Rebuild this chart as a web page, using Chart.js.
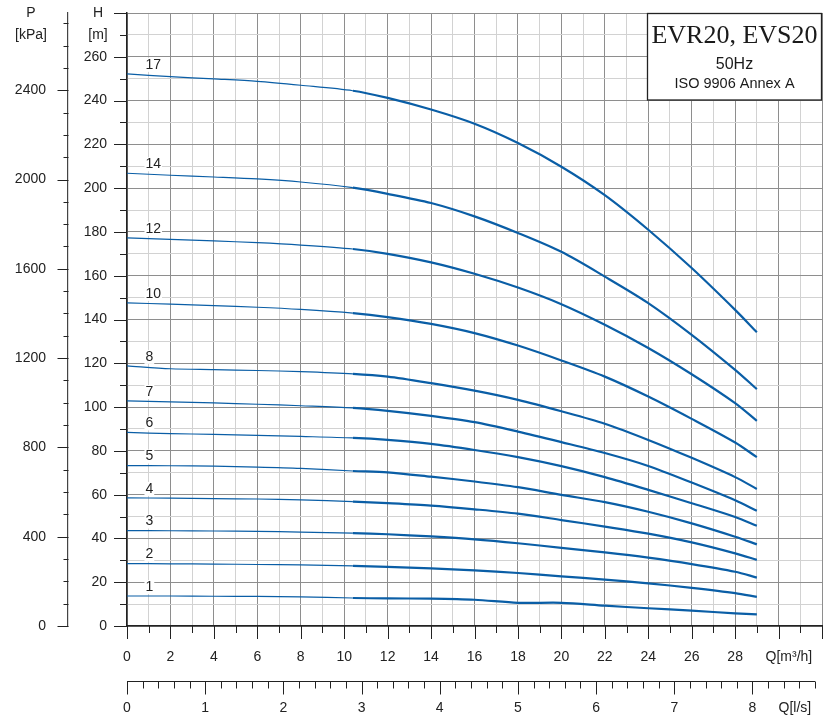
<!DOCTYPE html>
<html lang="es">
<head>
<meta charset="utf-8">
<title>EVR20, EVS20 — curvas de la bomba</title>
<script src="https://cdn.jsdelivr.net/npm/chart.js@4/dist/chart.umd.min.js"></script>
<style>
  html, body { margin: 0; padding: 0; background: #fff; }
  canvas { display: block; }
</style>
</head>
<body>
<canvas id="chart-curvas" width="823" height="718"></canvas>
<script>
// ═══════════════════════════════════════════════════════════
//  EVR20 / EVS20 — curvas H-Q a 50 Hz
// ═══════════════════════════════════════════════════════════

// ── DATOS ───────────────────────────────────────────────────
const caudales = [0, 2, 4, 6, 8, 10.4, 12, 14, 16, 18, 20, 22, 24, 26, 28, 29];
const etapas = ['17', '14', '12', '10', '8', '7', '6', '5', '4', '3', '2', '1'];

const altura17 = [252.2, 250.9, 249.9, 248.8, 247.0, 244.5, 241.2, 235.9, 229.4, 220.6, 209.8, 196.8, 181.0, 163.5, 144.4, 134.2];
const altura14 = [206.8, 205.9, 205.1, 204.2, 202.8, 200.2, 197.4, 193.2, 187.1, 179.5, 170.9, 159.6, 147.5, 133.0, 117.0, 108.2];
const altura12 = [177.3, 176.6, 175.9, 175.1, 174.0, 172.2, 170.0, 166.1, 160.9, 154.6, 147.0, 137.6, 127.0, 115.0, 101.8, 93.7];
const altura10 = [147.6, 147.0, 146.3, 145.6, 144.6, 142.9, 141.1, 138.0, 133.8, 128.1, 121.3, 113.9, 104.8, 94.6, 83.8, 77.1];
const altura8  = [118.8, 117.5, 117.1, 116.7, 116.2, 115.2, 113.9, 110.9, 107.5, 103.3, 98.1, 92.4, 85.0, 76.8, 68.0, 62.6];
const altura7  = [102.8, 102.4, 101.9, 101.3, 100.6, 99.6, 98.3, 96.0, 93.1, 88.8, 84.0, 79.0, 73.1, 65.5, 57.4, 52.6];
const altura6  = [88.4, 87.9, 87.5, 87.1, 86.6, 85.9, 85.0, 83.2, 80.4, 77.1, 73.0, 68.0, 62.2, 56.1, 49.8, 45.8];
const altura5  = [73.3, 73.2, 73.0, 72.6, 72.0, 70.8, 70.2, 68.2, 66.0, 63.4, 59.9, 56.6, 52.2, 46.9, 40.8, 37.3];
const altura4  = [58.5, 58.4, 58.2, 58.0, 57.6, 56.8, 56.1, 55.0, 53.3, 51.3, 48.4, 45.4, 42.2, 38.2, 33.2, 30.2];
const altura3  = [43.6, 43.5, 43.4, 43.2, 42.9, 42.4, 41.9, 40.9, 39.6, 37.8, 35.7, 33.6, 31.2, 28.3, 24.8, 22.1];
const altura2  = [28.5, 28.4, 28.3, 28.1, 27.9, 27.5, 27.0, 26.3, 25.4, 24.2, 22.7, 21.2, 19.5, 17.4, 15.0, 13.3];
const altura1  = [13.7, 13.7, 13.6, 13.5, 13.3, 12.8, 12.6, 12.5, 12.0, 10.6, 10.6, 9.3, 8.1, 7.0, 5.8, 5.3];

const alturas = [altura17, altura14, altura12, altura10, altura8, altura7, altura6, altura5, altura4, altura3, altura2, altura1];

// etiquetas de los ejes
const etiquetasH = [0, 20, 40, 60, 80, 100, 120, 140, 160, 180, 200, 220, 240, 260];
const etiquetasP = [0, 400, 800, 1200, 1600, 2000, 2400];
const etiquetasQ = [0, 2, 4, 6, 8, 10, 12, 14, 16, 18, 20, 22, 24, 26, 28];
const etiquetasLs = [0, 1, 2, 3, 4, 5, 6, 7, 8];

const maxH = 280;
const maxQ = 32;
const kPaPorMetro = 9.807;
const m3hPorLs = 3.6;
const inicioTramoGrueso = 10.4;

// Paleta
const colores = {
  curva: '#0a5ea6',
  rejillaFuerte: '#8e8e8e',
  rejillaSuave: '#d2d2d2',
  eje: '#222',
  texto: '#222'
};

const fuente = "'Liberation Sans', Arial, sans-serif";

Chart.defaults.font.family = fuente;
Chart.defaults.font.size = 14;
Chart.defaults.color = colores.texto;

// ── DECORACIÓN: marcas, títulos de ejes, cuadro ─────────────
function linea(ctx, x1, y1, x2, y2) {
  ctx.beginPath();
  ctx.moveTo(x1, y1);
  ctx.lineTo(x2, y2);
  ctx.stroke();
}

const decoracion = {
  id: 'decoracion',
  afterDraw(chart) {
    const { ctx, chartArea: area, scales } = chart;
    const sx = scales.x, sy = scales.y, sp = scales.yKpa, sl = scales.xLs;

    ctx.save();
    ctx.strokeStyle = colores.eje;
    ctx.lineWidth = 1;

    // marcas eje H
    for (let v = 0; v <= maxH; v += 10) {
      const y = Math.round(sy.getPixelForValue(v)) + 0.5;
      const largo = v % 20 === 0 ? 13 : 7;
      linea(ctx, area.left - largo, y, area.left, y);
    }

    // marcas eje P
    const xP = Math.round(sp.right) + 0.5;
    for (let v = 0; v <= 2700; v += 100) {
      const y = Math.round(sp.getPixelForValue(v)) + 0.5;
      const largo = v % 400 === 0 ? 11 : 5;
      linea(ctx, xP - largo, y, xP, y);
    }

    // marcas eje Q [m3/h]
    for (let v = 0; v <= maxQ; v += 1) {
      const x = Math.round(sx.getPixelForValue(v)) + 0.5;
      const largo = v % 2 === 0 ? 13 : 7;
      linea(ctx, x, area.bottom, x, area.bottom + largo);
    }

    // eje Q [l/s]
    const yLs = Math.round(sl.top) + 0.5;
    linea(ctx, sl.getPixelForValue(0), yLs, sl.getPixelForValue(8.8), yLs);
    for (let i = 0; i <= 44; i++) {
      const x = Math.round(sl.getPixelForValue(i * 0.2)) + 0.5;
      const largo = i % 5 === 0 ? 13 : 7;
      linea(ctx, x, yLs, x, yLs + largo);
    }

    // títulos de los ejes
    ctx.fillStyle = colores.texto;
    ctx.font = '14px ' + fuente;
    ctx.textBaseline = 'middle';
    ctx.textAlign = 'center';
    const yTop = sy.getPixelForValue(280);
    const yUnidad = sy.getPixelForValue(270);
    ctx.fillText('H', area.left - 29, yTop);
    ctx.fillText('[m]', area.left - 29, yUnidad);
    ctx.fillText('P', sp.right - 37, yTop);
    ctx.fillText('[kPa]', sp.right - 37, yUnidad);

    ctx.textAlign = 'left';
    ctx.fillText('Q[m³/h]', sx.getPixelForValue(29.4), sx.top + 31);
    ctx.fillText('Q[l/s]', sx.getPixelForValue(30.0), sl.top + 27);

    // número de etapas sobre cada curva
    alturas.forEach((serie, i) => {
      const x = sx.getPixelForValue(0.85);
      const y = sy.getPixelForValue(serie[0]) - 9;
      const w = ctx.measureText(etapas[i]).width;
      ctx.fillStyle = '#fff';
      ctx.fillRect(x - 1, y - 7, w + 2, 14);
      ctx.fillStyle = colores.texto;
      ctx.fillText(etapas[i], x, y);
    });

    // cuadro del título
    const bx = Math.round(sx.getPixelForValue(23.95)) + 0.5;
    const by = Math.round(area.top) + 0.5;
    const bw = Math.round(area.right) - bx - 0.5;
    const bh = Math.round(sy.getPixelForValue(240.3)) - by;
    ctx.fillStyle = '#fff';
    ctx.fillRect(bx, by, bw, bh);
    ctx.lineWidth = 1.3;
    ctx.strokeRect(bx, by, bw, bh);

    const cx = bx + bw / 2;
    ctx.fillStyle = '#1a1a1a';
    ctx.textAlign = 'center';
    ctx.textBaseline = 'alphabetic';
    ctx.font = "26px 'Liberation Serif', 'DejaVu Serif', serif";
    ctx.fillText('EVR20, EVS20', cx, by + 29);
    ctx.font = '16px ' + fuente;
    ctx.fillText('50Hz', cx, by + 55);
    ctx.font = '14.5px ' + fuente;
    ctx.fillText('ISO 9906 Annex A', cx, by + 74);

    ctx.restore();
  }
};

// ── GRÁFICO ─────────────────────────────────────────────────
function crearGraficoCurvas() {
  const ctx = document.getElementById('chart-curvas').getContext('2d');

  const datasets = alturas.map((serie, i) => ({
    label: etapas[i],
    data: caudales.map((q, j) => ({ x: q, y: serie[j] })),
    borderColor: colores.curva,
    borderWidth: 2.2,
    pointRadius: 0,
    fill: false,
    tension: 0.3,
    segment: {
      borderWidth: c => (c.p0.parsed.x >= inicioTramoGrueso ? 2.2 : 1.2)
    }
  }));

  const colorRejilla = paso => c => (Math.round(c.tick.value) % paso === 0 ? colores.rejillaFuerte : colores.rejillaSuave);

  // el hueco entre marca y texto se hace con tickLength (marca invisible)
  // para que ticks.padding no agrande los márgenes del área del gráfico
  new Chart(ctx, {
    type: 'line',
    data: { datasets },
    plugins: [decoracion],
    options: {
      responsive: false,
      devicePixelRatio: 1,
      animation: false,
      layout: { padding: { top: 13, right: 1, left: 0, bottom: 0 } },
      plugins: {
        legend: { display: false },
        tooltip: { enabled: false }
      },
      scales: {
        x: {
          type: 'linear',
          position: 'bottom',
          weight: 0,
          min: 0,
          max: maxQ,
          afterFit: s => { s.height = 55; },
          grid: { color: colorRejilla(2), drawTicks: true, tickLength: 23, tickColor: 'transparent' },
          border: { color: colores.eje, width: 1.5 },
          ticks: {
            stepSize: 1,
            autoSkip: false,
            maxRotation: 0,
            padding: 0,
            callback: v => (etiquetasQ.includes(v) ? String(v) : '')
          }
        },
        xLs: {
          type: 'linear',
          position: 'bottom',
          weight: 1,
          min: 0,
          max: maxQ / m3hPorLs,
          afterFit: s => { s.height = 37; },
          grid: { drawOnChartArea: false, drawTicks: true, tickLength: 19, tickColor: 'transparent' },
          border: { display: false },
          ticks: {
            stepSize: 0.2,
            autoSkip: false,
            maxRotation: 0,
            padding: 0,
            callback: v => {
              const r = Math.round(v * 10) / 10;
              return etiquetasLs.includes(r) ? String(r) : '';
            }
          }
        },
        y: {
          type: 'linear',
          position: 'left',
          weight: 0,
          min: 0,
          max: maxH,
          afterFit: s => { s.width = 59; },
          grid: { color: colorRejilla(20), drawTicks: true, tickLength: 20, tickColor: 'transparent' },
          border: { color: colores.eje, width: 1.5 },
          ticks: {
            stepSize: 10,
            autoSkip: false,
            padding: 0,
            callback: v => (etiquetasH.includes(v) ? String(v) : '')
          }
        },
        yKpa: {
          type: 'linear',
          position: 'left',
          weight: 1,
          min: 0,
          max: maxH * kPaPorMetro,
          afterFit: s => { s.width = 68; },
          grid: { drawOnChartArea: false, drawTicks: true, tickLength: 22, tickColor: 'transparent' },
          border: { color: '#444', width: 1.2 },
          ticks: {
            stepSize: 100,
            autoSkip: false,
            padding: 0,
            callback: v => (etiquetasP.includes(v) ? String(v) : '')
          }
        }
      }
    }
  });
}

window.addEventListener('DOMContentLoaded', crearGraficoCurvas);
</script>
</body>
</html>
